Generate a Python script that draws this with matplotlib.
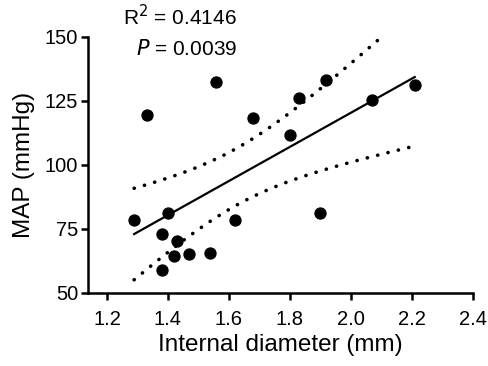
import numpy as np
import matplotlib
matplotlib.use("Agg")
import matplotlib.pyplot as plt

plt.rcParams['font.family'] = ['Liberation Sans', 'DejaVu Sans']

diameter = [1.289, 1.330, 1.379, 1.379, 1.400, 1.421, 1.430, 1.469, 1.539,
            1.558, 1.619, 1.679, 1.799, 1.829, 1.898, 1.918, 2.068, 2.209]
map_vals = [78.5, 119.5, 73.2, 59.0, 81.4, 64.5, 70.3, 65.2, 65.5,
            132.5, 78.5, 118.4, 111.8, 126.1, 81.1, 133.1, 125.4, 131.3]
xticks = [1.2, 1.4, 1.6, 1.8, 2.0, 2.2, 2.4]
yticks = [50, 75, 100, 125, 150]
r2_text = "R$^2$ = 0.4146"
p_text = "$\\it{P}$ = 0.0039"

x = np.array(diameter)
y = np.array(map_vals)
n = len(x)
slope, intercept = np.polyfit(x, y, 1)
xf = np.linspace(x.min(), x.max(), 200)
yf = slope * xf + intercept
resid = y - (slope * x + intercept)
s = np.sqrt(np.sum(resid ** 2) / (n - 2))
sxx = np.sum((x - x.mean()) ** 2)
t = 2.1199  # t(0.975, 16)
half = t * s * np.sqrt(1 / n + (xf - x.mean()) ** 2 / sxx)

fig = plt.figure(figsize=(4.88, 3.66), dpi=100)
ax = fig.add_axes([88 / 488, 1 - 293 / 366, (473 - 88) / 488, (293 - 37) / 366])

ax.plot(xf, yf, color='black', lw=1.6)
ax.plot(xf, yf + half, color='black', lw=2.6, linestyle=(0, (0.05, 2.9)),
        dash_capstyle='round')
ax.plot(xf, yf - half, color='black', lw=2.6, linestyle=(0, (0.05, 2.9)),
        dash_capstyle='round')
ax.scatter(x, y, s=62, color='black', zorder=3, clip_on=False)

ax.set_xlim(1.2 - 19 / 305, 2.4)
ax.set_ylim(50, 150)
ax.set_xticks(xticks)
ax.set_xticklabels([f"{v:.1f}" for v in xticks])
ax.set_yticks(yticks)
ax.tick_params(axis='both', labelsize=14.5, width=1.8, length=5, direction='out')
ax.tick_params(axis='x', pad=7)
ax.tick_params(axis='y', pad=2)
for side in ['top', 'right']:
    ax.spines[side].set_visible(False)
for side in ['left', 'bottom']:
    ax.spines[side].set_linewidth(1.8)
ax.set_xlabel("Internal diameter (mm)", fontsize=17.5, labelpad=4)
ax.set_ylabel("MAP (mmHg)", fontsize=17.5, labelpad=7)

fig.text(237 / 488, 1 - 17 / 366, r2_text, fontsize=15, ha='right', va='center')
fig.text(237 / 488, 1 - 49 / 366, p_text, fontsize=15, ha='right', va='center')

fig.savefig("out.png", dpi=100)
